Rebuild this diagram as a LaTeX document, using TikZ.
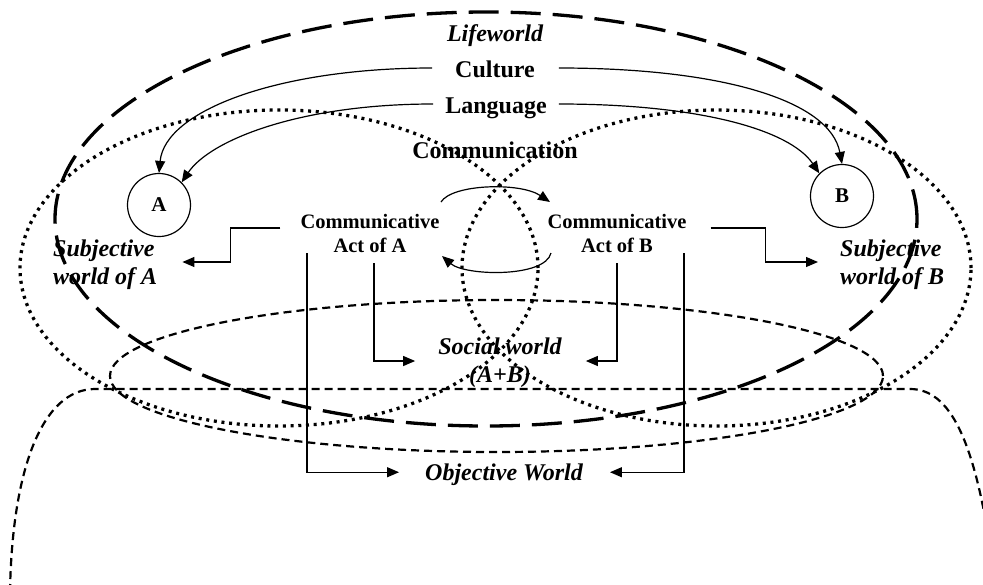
\documentclass[tikz,border=0pt]{standalone}
\usepackage{fontspec}
\setmainfont{Liberation Serif}
\usetikzlibrary{arrows.meta}
\begin{document}
\begin{tikzpicture}[x=1pt,y=-1pt,
  conn/.style={line width=1.2pt,-{Triangle[length=12pt,width=10pt]}},
  lifeline/.style={line width=3.3pt,dash pattern=on 30pt off 12pt},
  subjline/.style={line width=3.3pt,dash pattern=on 3pt off 4.7pt},
  worldline/.style={line width=2.2pt,dash pattern=on 8pt off 5pt},
  title/.style={font=\fontsize{24}{28}\selectfont\bfseries, inner sep=0pt, text height=16pt, text depth=0pt},
  ititle/.style={font=\fontsize{24}{28}\selectfont\bfseries\itshape, inner sep=0pt},
  act/.style={font=\fontsize{20.5}{24}\selectfont\bfseries, inner sep=0pt, align=center},
  agent/.style={circle, draw, line width=1.2pt, minimum size=63pt, inner sep=0pt, font=\fontsize{21}{24}\selectfont\bfseries},
]
\clip (0,0) rectangle (983,584);
\useasboundingbox (0,0) rectangle (983,584);

% lifeworld boundary
\draw[lifeline] (486,219) ellipse [x radius=431pt, y radius=207pt];
% subjective worlds of A and B
\draw[subjline] (279,268) ellipse [x radius=259pt, y radius=158pt];
\draw[subjline] (716.5,268) ellipse [x radius=254.5pt, y radius=158pt];
% social world
\draw[worldline] (496.5,376) ellipse [x radius=386.5pt, y radius=76pt];
% objective world
\draw[worldline] (10,592) .. controls (12,470) and (42,389) .. (95,389) -- (910,389)
  .. controls (950,389) and (975,440) .. (992,560);

% labels
\node[ititle, anchor=base] (life) at (495,41) {Lifeworld};
\node[title, anchor=base] (culture) at (495,77) {Culture};
\node[title, anchor=base] (lang) at (496,113) {Language};
\node[title, anchor=base] (comm) at (495,158) {Communication};
\node[agent] (A) at (159,205) {A};
\node[agent] (B) at (842,196) {B};
\node[act] (actA) at (370,233) {Communicative\\Act of A};
\node[act] (actB) at (617,233) {Communicative\\Act of B};
\node[ititle, align=left, anchor=west] (subA) at (53,265) {Subjective\\world of A};
\node[ititle, align=left, anchor=west] (subB) at (840,265) {Subjective\\world of B};
\node[ititle, align=center] (social) at (500,363) {Social world\\(A+B)};
\node[ititle, anchor=base] (obj) at (504,480) {Objective World};

% culture and language reach both actors
\draw[conn] ([shift={(-23,-1)}]culture.west) .. controls (280,68) and (165,110) .. (A.north);
\draw[conn] ([shift={(-12,-1)}]lang.west) .. controls (300,104) and (210,140) .. (A.45);
\draw[conn] ([shift={(24,-1)}]culture.east) .. controls (720,68) and (830,100) .. (B.north);
\draw[conn] ([shift={(12,-1)}]lang.east) .. controls (700,104) and (790,130) .. (B.135);

% communication between the two acts
\draw[conn] ([shift={(71,-31)}]actA.center) .. controls (452,184) and (520,182) .. ([shift={(-67,-31)}]actB.center);
\draw[conn] ([shift={(-66,20)}]actB.center) .. controls (545,278) and (465,276) .. ([shift={(72,23)}]actA.center);

% acts towards the subjective worlds
\draw[conn] ([shift={(-20,-5)}]actA.west) -- ++(-50,0) |- ([shift={(25,-3)}]subA.east);
\draw[conn] ([shift={(24,-5)}]actB.east) -- ++(55,0) |- ([shift={(-22,-3)}]subB.west);

% acts towards the social and objective worlds
\draw[conn] ([shift={(-63,20)}]actA.center) |- ([shift={(-26,-2)}]obj.west);
\draw[conn] ([shift={(4,30)}]actA.center) |- ([shift={(-23,-2)}]social.west);
\draw[conn] ([shift={(0,30)}]actB.center) |- ([shift={(24,-2)}]social.east);
\draw[conn] ([shift={(67,20)}]actB.center) |- ([shift={(27,-2)}]obj.east);
\end{tikzpicture}
\end{document}
